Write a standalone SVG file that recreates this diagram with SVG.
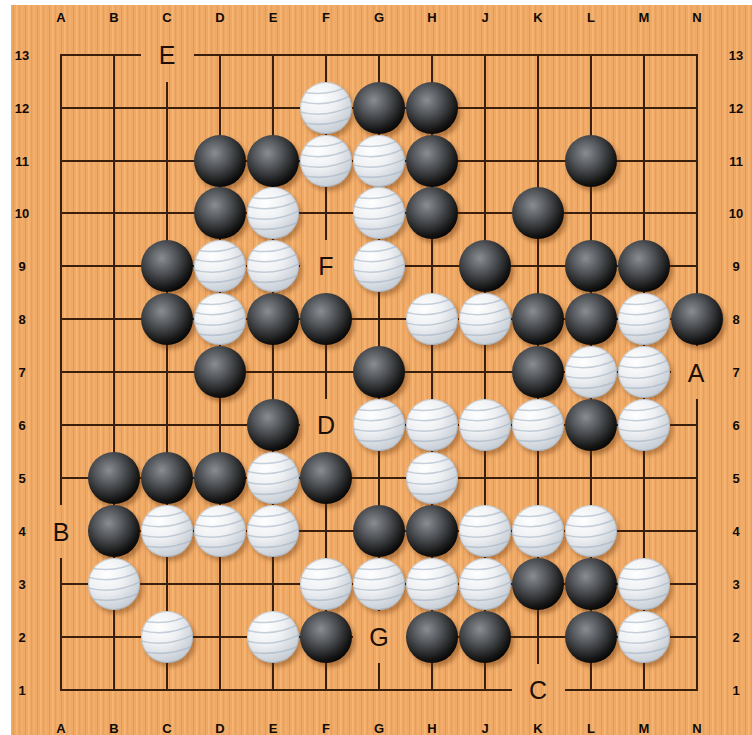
<svg xmlns="http://www.w3.org/2000/svg" xmlns:xlink="http://www.w3.org/1999/xlink" width="752" height="735" viewBox="0 0 752 735">
<style>
.grid line{stroke:#3a1f0c;stroke-width:2;stroke-linecap:square}
.coord{font-family:"Liberation Sans",Arial,sans-serif;font-weight:bold;font-size:13px;fill:#120a04;text-anchor:middle}
.lbl{font-family:"Liberation Sans",Arial,sans-serif;font-size:25px;fill:#1e0f06;text-anchor:middle}
.gap{fill:url(#wood)}
</style>
<defs>
<pattern id="wood" patternUnits="userSpaceOnUse" x="0" y="0" width="12" height="735">
<rect width="12" height="735" fill="#EFA965"/>
<rect x="1" width="1" height="735" fill="#E39C58"/>
<rect x="4" width="1.5" height="735" fill="#F5B676"/>
<rect x="7" width="1" height="735" fill="#E6A05C"/>
<rect x="9.5" width="1" height="735" fill="#F3B272"/>
</pattern>
<radialGradient id="bg" cx="40%" cy="35%" r="68%">
<stop offset="0" stop-color="#8a8d91"/>
<stop offset="0.45" stop-color="#4c4f53"/>
<stop offset="0.85" stop-color="#151515"/>
<stop offset="1" stop-color="#050505"/>
</radialGradient>
<radialGradient id="wg" cx="35%" cy="30%" r="72%">
<stop offset="0" stop-color="#ffffff"/>
<stop offset="0.5" stop-color="#eef0f3"/>
<stop offset="1" stop-color="#c6cdd5"/>
</radialGradient>
<filter id="blur" x="-30%" y="-30%" width="160%" height="160%"><feGaussianBlur stdDeviation="2"/></filter>
<clipPath id="sc" clipPathUnits="userSpaceOnUse"><circle r="26"/></clipPath>
<g id="b">
<circle cx="3" cy="4" r="26" fill="#5a2800" opacity="0.4" filter="url(#blur)"/>
<circle r="26" fill="url(#bg)"/>
</g>
<g id="w">
<circle cx="3" cy="4" r="26" fill="#5a2800" opacity="0.35" filter="url(#blur)"/>
<circle r="26" fill="url(#wg)"/>
<g clip-path="url(#sc)" fill="none" stroke="#a3b3c3" stroke-width="1.5" opacity="0.6">
<path d="M-30,-18 Q0,-8 30,-26"/>
<path d="M-30,-8 Q0,2 30,-15"/>
<path d="M-30,3 Q0,12 30,-4"/>
<path d="M-30,13 Q0,22 30,7"/>
<path d="M-30,23 Q0,32 30,17"/>
</g>
<circle r="25.5" fill="none" stroke="#9aa3ad" stroke-width="1" opacity="0.5"/>
</g>
</defs>
<rect width="752" height="735" fill="#ffffff"/>
<rect x="11" y="5" width="741" height="730" fill="url(#wood)"/>
<g id="grid" class="grid">
<line x1="61" y1="55" x2="697" y2="55"/>
<line x1="61" y1="108" x2="697" y2="108"/>
<line x1="61" y1="161" x2="697" y2="161"/>
<line x1="61" y1="213" x2="697" y2="213"/>
<line x1="61" y1="266" x2="697" y2="266"/>
<line x1="61" y1="319" x2="697" y2="319"/>
<line x1="61" y1="372" x2="697" y2="372"/>
<line x1="61" y1="425" x2="697" y2="425"/>
<line x1="61" y1="478" x2="697" y2="478"/>
<line x1="61" y1="531" x2="697" y2="531"/>
<line x1="61" y1="584" x2="697" y2="584"/>
<line x1="61" y1="637" x2="697" y2="637"/>
<line x1="61" y1="690" x2="697" y2="690"/>
<line x1="61" y1="55" x2="61" y2="690"/>
<line x1="114" y1="55" x2="114" y2="690"/>
<line x1="167" y1="55" x2="167" y2="690"/>
<line x1="220" y1="55" x2="220" y2="690"/>
<line x1="273" y1="55" x2="273" y2="690"/>
<line x1="326" y1="55" x2="326" y2="690"/>
<line x1="379" y1="55" x2="379" y2="690"/>
<line x1="432" y1="55" x2="432" y2="690"/>
<line x1="485" y1="55" x2="485" y2="690"/>
<line x1="538" y1="55" x2="538" y2="690"/>
<line x1="591" y1="55" x2="591" y2="690"/>
<line x1="644" y1="55" x2="644" y2="690"/>
<line x1="697" y1="55" x2="697" y2="690"/>
</g>
<g id="label-gaps">
<rect class="gap" x="141" y="29" width="53" height="53"/>
<rect class="gap" x="671" y="346" width="53" height="53"/>
<rect class="gap" x="35" y="505" width="53" height="53"/>
<rect class="gap" x="353" y="611" width="53" height="52"/>
<rect class="gap" x="512" y="664" width="53" height="53"/>
<rect class="gap" x="300" y="399" width="53" height="53"/>
<rect class="gap" x="300" y="240" width="53" height="53"/>
</g>
<g id="coords">
<g id="col-top">
<text class="coord" x="61" y="22">A</text><text class="coord" x="114" y="22">B</text><text class="coord" x="167" y="22">C</text><text class="coord" x="220" y="22">D</text><text class="coord" x="273" y="22">E</text><text class="coord" x="326" y="22">F</text><text class="coord" x="379" y="22">G</text><text class="coord" x="432" y="22">H</text><text class="coord" x="485" y="22">J</text><text class="coord" x="538" y="22">K</text><text class="coord" x="591" y="22">L</text><text class="coord" x="644" y="22">M</text><text class="coord" x="697" y="22">N</text>
</g>
<g id="col-bottom">
<text class="coord" x="61" y="733">A</text><text class="coord" x="114" y="733">B</text><text class="coord" x="167" y="733">C</text><text class="coord" x="220" y="733">D</text><text class="coord" x="273" y="733">E</text><text class="coord" x="326" y="733">F</text><text class="coord" x="379" y="733">G</text><text class="coord" x="432" y="733">H</text><text class="coord" x="485" y="733">J</text><text class="coord" x="538" y="733">K</text><text class="coord" x="591" y="733">L</text><text class="coord" x="644" y="733">M</text><text class="coord" x="697" y="733">N</text>
</g>
<g id="row-left">
<text class="coord" x="22" y="60">13</text><text class="coord" x="22" y="113">12</text><text class="coord" x="22" y="166">11</text><text class="coord" x="22" y="218">10</text><text class="coord" x="22" y="271">9</text><text class="coord" x="22" y="324">8</text><text class="coord" x="22" y="377">7</text><text class="coord" x="22" y="430">6</text><text class="coord" x="22" y="483">5</text><text class="coord" x="22" y="536">4</text><text class="coord" x="22" y="589">3</text><text class="coord" x="22" y="642">2</text><text class="coord" x="22" y="695">1</text>
</g>
<g id="row-right">
<text class="coord" x="736" y="60">13</text><text class="coord" x="736" y="113">12</text><text class="coord" x="736" y="166">11</text><text class="coord" x="736" y="218">10</text><text class="coord" x="736" y="271">9</text><text class="coord" x="736" y="324">8</text><text class="coord" x="736" y="377">7</text><text class="coord" x="736" y="430">6</text><text class="coord" x="736" y="483">5</text><text class="coord" x="736" y="536">4</text><text class="coord" x="736" y="589">3</text><text class="coord" x="736" y="642">2</text><text class="coord" x="736" y="695">1</text>
</g>
</g>
<g id="stones">
<use id="F12" href="#w" x="326" y="108"/>
<use id="G12" href="#b" x="379" y="108"/>
<use id="H12" href="#b" x="432" y="108"/>
<use id="D11" href="#b" x="220" y="161"/>
<use id="E11" href="#b" x="273" y="161"/>
<use id="F11" href="#w" x="326" y="161"/>
<use id="G11" href="#w" x="379" y="161"/>
<use id="H11" href="#b" x="432" y="161"/>
<use id="L11" href="#b" x="591" y="161"/>
<use id="D10" href="#b" x="220" y="213"/>
<use id="E10" href="#w" x="273" y="213"/>
<use id="G10" href="#w" x="379" y="213"/>
<use id="H10" href="#b" x="432" y="213"/>
<use id="K10" href="#b" x="538" y="213"/>
<use id="C9" href="#b" x="167" y="266"/>
<use id="D9" href="#w" x="220" y="266"/>
<use id="E9" href="#w" x="273" y="266"/>
<use id="G9" href="#w" x="379" y="266"/>
<use id="J9" href="#b" x="485" y="266"/>
<use id="L9" href="#b" x="591" y="266"/>
<use id="M9" href="#b" x="644" y="266"/>
<use id="C8" href="#b" x="167" y="319"/>
<use id="D8" href="#w" x="220" y="319"/>
<use id="E8" href="#b" x="273" y="319"/>
<use id="F8" href="#b" x="326" y="319"/>
<use id="H8" href="#w" x="432" y="319"/>
<use id="J8" href="#w" x="485" y="319"/>
<use id="K8" href="#b" x="538" y="319"/>
<use id="L8" href="#b" x="591" y="319"/>
<use id="M8" href="#w" x="644" y="319"/>
<use id="N8" href="#b" x="697" y="319"/>
<use id="D7" href="#b" x="220" y="372"/>
<use id="G7" href="#b" x="379" y="372"/>
<use id="K7" href="#b" x="538" y="372"/>
<use id="L7" href="#w" x="591" y="372"/>
<use id="M7" href="#w" x="644" y="372"/>
<use id="E6" href="#b" x="273" y="425"/>
<use id="G6" href="#w" x="379" y="425"/>
<use id="H6" href="#w" x="432" y="425"/>
<use id="J6" href="#w" x="485" y="425"/>
<use id="K6" href="#w" x="538" y="425"/>
<use id="L6" href="#b" x="591" y="425"/>
<use id="M6" href="#w" x="644" y="425"/>
<use id="B5" href="#b" x="114" y="478"/>
<use id="C5" href="#b" x="167" y="478"/>
<use id="D5" href="#b" x="220" y="478"/>
<use id="E5" href="#w" x="273" y="478"/>
<use id="F5" href="#b" x="326" y="478"/>
<use id="H5" href="#w" x="432" y="478"/>
<use id="B4" href="#b" x="114" y="531"/>
<use id="C4" href="#w" x="167" y="531"/>
<use id="D4" href="#w" x="220" y="531"/>
<use id="E4" href="#w" x="273" y="531"/>
<use id="G4" href="#b" x="379" y="531"/>
<use id="H4" href="#b" x="432" y="531"/>
<use id="J4" href="#w" x="485" y="531"/>
<use id="K4" href="#w" x="538" y="531"/>
<use id="L4" href="#w" x="591" y="531"/>
<use id="B3" href="#w" x="114" y="584"/>
<use id="F3" href="#w" x="326" y="584"/>
<use id="G3" href="#w" x="379" y="584"/>
<use id="H3" href="#w" x="432" y="584"/>
<use id="J3" href="#w" x="485" y="584"/>
<use id="K3" href="#b" x="538" y="584"/>
<use id="L3" href="#b" x="591" y="584"/>
<use id="M3" href="#w" x="644" y="584"/>
<use id="C2" href="#w" x="167" y="637"/>
<use id="E2" href="#w" x="273" y="637"/>
<use id="F2" href="#b" x="326" y="637"/>
<use id="H2" href="#b" x="432" y="637"/>
<use id="J2" href="#b" x="485" y="637"/>
<use id="L2" href="#b" x="591" y="637"/>
<use id="M2" href="#w" x="644" y="637"/>
</g>
<g id="labels">
<text id="lbl-E" class="lbl" x="167" y="64">E</text>
<text id="lbl-A" class="lbl" x="696" y="382">A</text>
<text id="lbl-B" class="lbl" x="61" y="541">B</text>
<text id="lbl-G" class="lbl" x="379" y="646">G</text>
<text id="lbl-C" class="lbl" x="538" y="699">C</text>
<text id="lbl-D" class="lbl" x="326" y="434">D</text>
<text id="lbl-F" class="lbl" x="326" y="275">F</text>
</g>
</svg>
